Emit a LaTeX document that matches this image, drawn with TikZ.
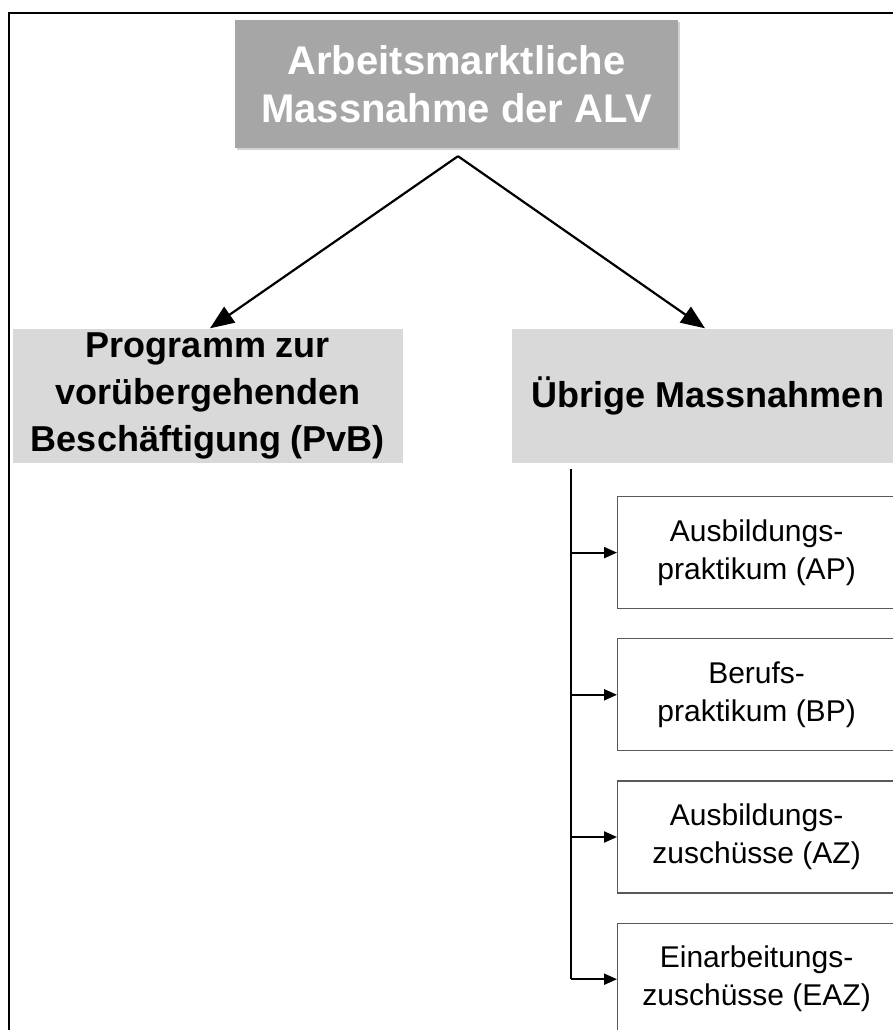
\documentclass[tikz,border=0pt]{standalone}
\usepackage{fontspec}
\setmainfont{Liberation Sans}
\usetikzlibrary{positioning,arrows.meta,shadows}
\definecolor{darkbox}{HTML}{A6A6A6}
\definecolor{lightbox}{HTML}{D9D9D9}
\tikzset{
    main-box/.style = {fill=darkbox, text=white, font=\fontsize{40}{48}\selectfont\bfseries, align=center, minimum width=443pt, minimum height=128pt, drop shadow={shadow xshift=2pt, shadow yshift=-2pt, opacity=0.35}},
    group-box/.style = {fill=lightbox, font=\fontsize{36}{47}\selectfont\bfseries, align=center, minimum width=390pt, minimum height=134pt},
    sub-box/.style = {draw=black!65, fill=white, line width=1.2pt, font=\fontsize{30}{38}\selectfont, align=center, minimum width=278pt, minimum height=112pt},
    big-arrow/.style = {line width=2.2pt, -{Triangle[length=24pt, width=19pt]}},
    small-arrow/.style = {line width=2.2pt, -{Triangle[length=13pt, width=11pt]}},
}
\begin{document}
\begin{tikzpicture}[x=1pt, y=-1pt]
\useasboundingbox (0,0) rectangle (893,1030);
\clip (0,0) rectangle (893,1030);
\draw[line width=2.5pt] (9,13) rectangle (960,1100);

\node[main-box] (alv) at (456.5,84) {Arbeitsmarktliche\\Massnahme der ALV};
\node[group-box] (pvb) at (208,395.5) {Programm zur\\vorübergehenden\\Beschäftigung (PvB)};
\node[group-box, minimum width=392pt] (other) at (708,395.5) {Übrige Massnahmen};

\node[sub-box, anchor=north west] (ap) at (617,496) {Ausbildungs-\\praktikum (AP)};
\node[sub-box, below=29pt of ap] (bp) {Berufs-\\praktikum (BP)};
\node[sub-box, below=29pt of bp] (az) {Ausbildungs-\\zuschüsse (AZ)};
\node[sub-box, below=29pt of az] (eaz) {Einarbeitungs-\\zuschüsse (EAZ)};

% top split
\coordinate (fork) at ([xshift=1.5pt, yshift=-8pt]alv.south);
\draw[big-arrow] (fork) -- ([xshift=2pt]pvb.north);
\draw[big-arrow] (fork) -- ([xshift=-3pt]other.north);

% list of measures
\coordinate (trunk) at ([xshift=-137pt, yshift=-6pt]other.south);
\draw[line width=2.2pt] (trunk) -- (trunk |- eaz.west);
\foreach \n in {ap,bp,az,eaz}
    \draw[small-arrow] (trunk |- \n.west) -- (\n.west);
\end{tikzpicture}
\end{document}
